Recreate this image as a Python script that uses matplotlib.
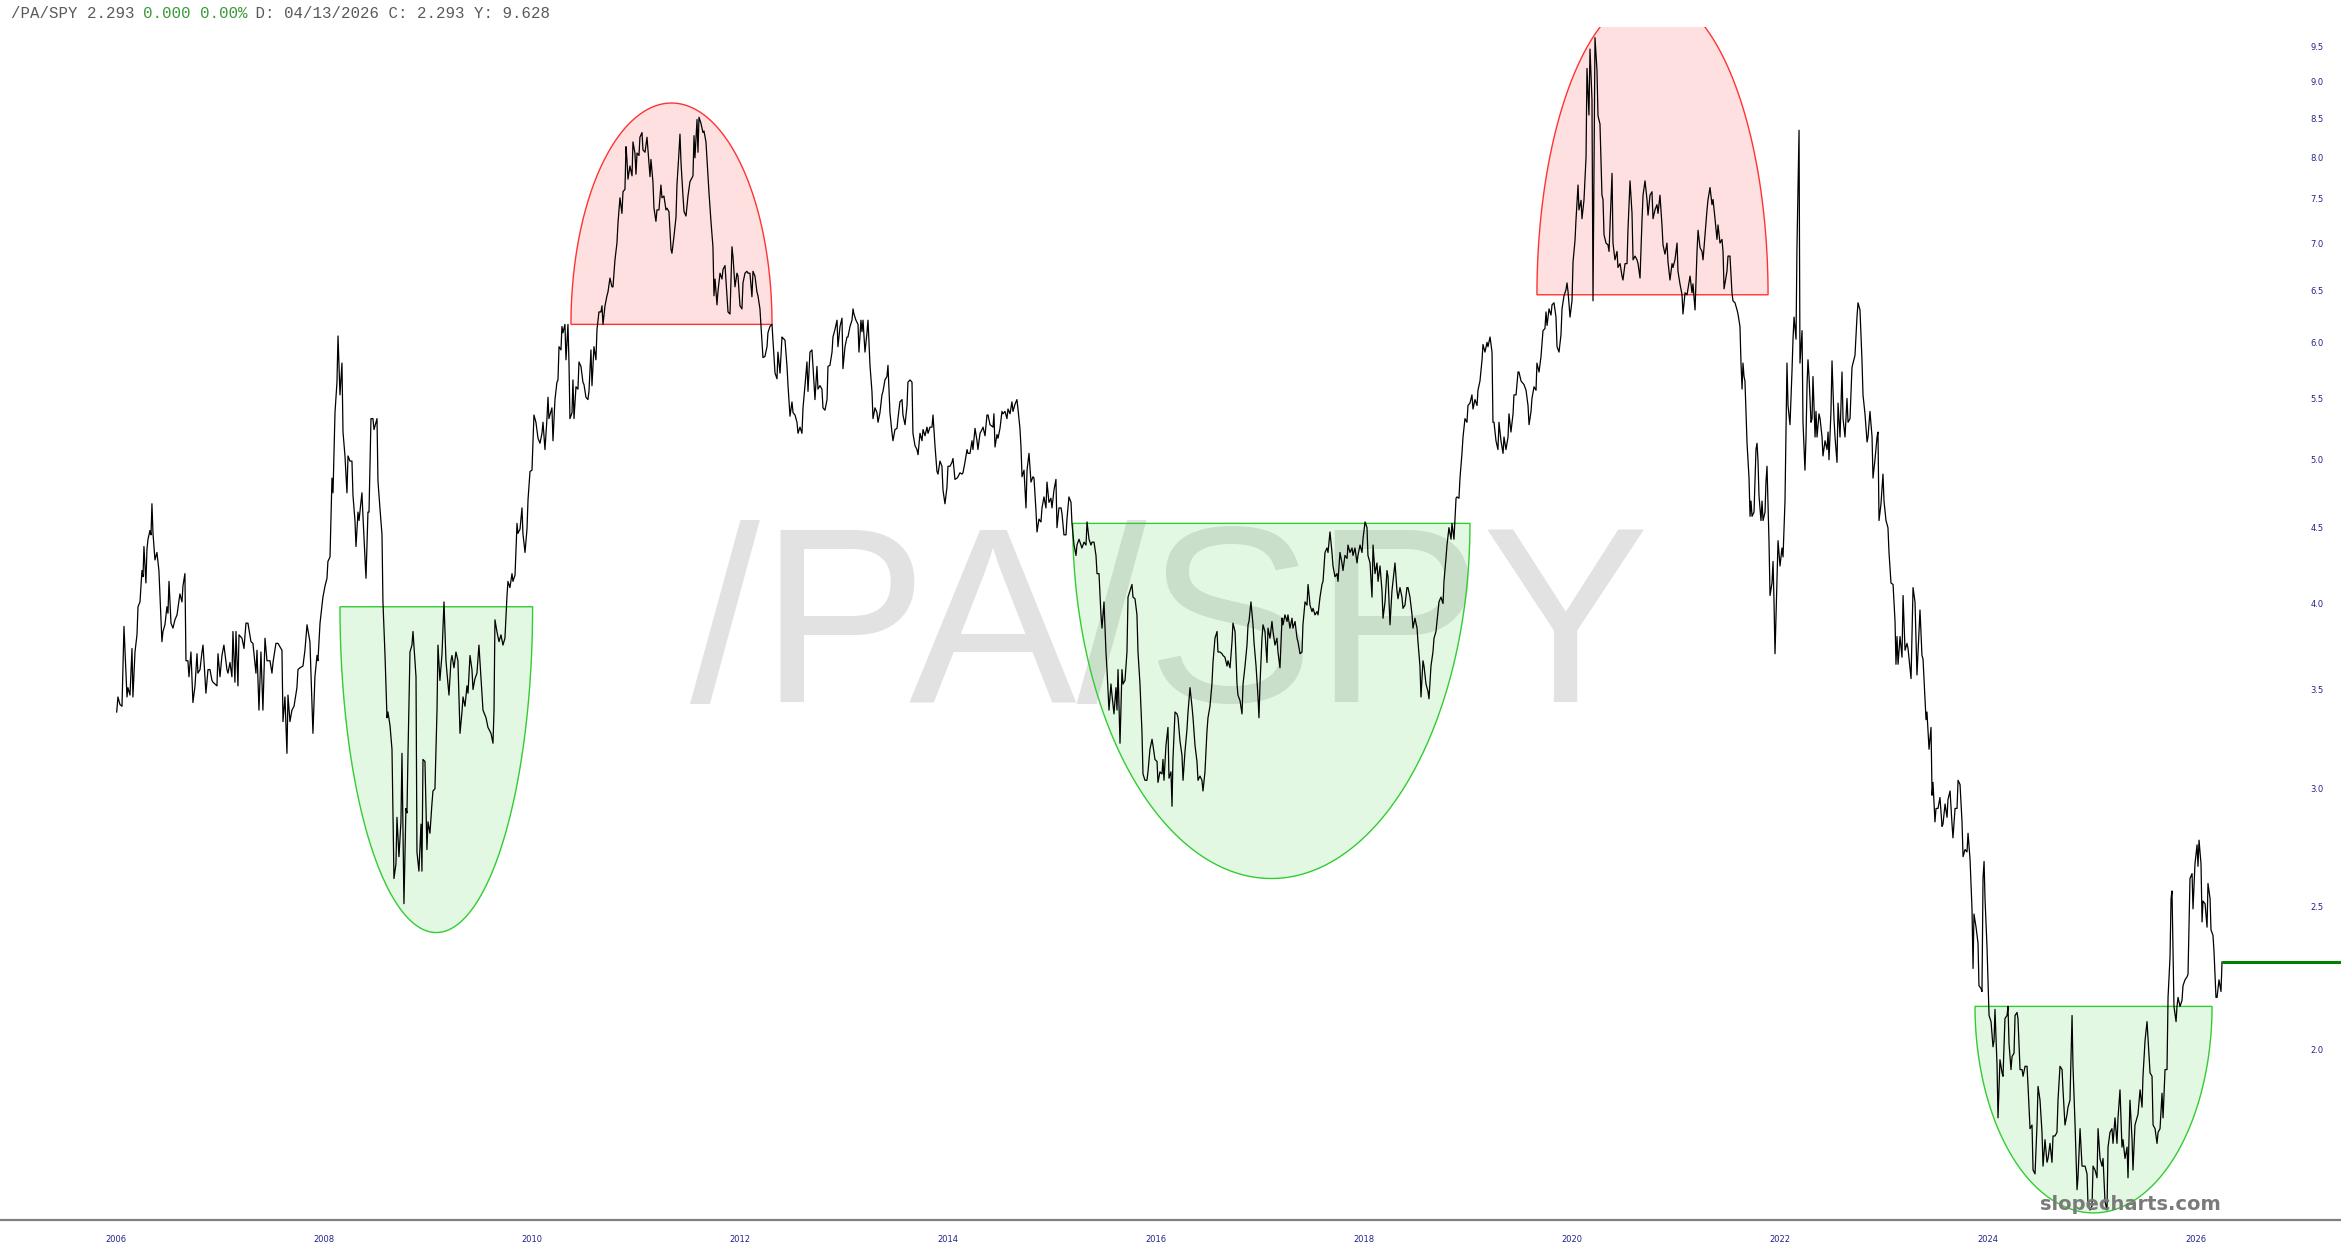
import numpy as np
import matplotlib.pyplot as plt
from matplotlib.patches import Polygon

# /PA/SPY ratio: (decimal year, ratio)
pa_spy_2006_2010 = [
    (2006.007, 3.38), (2006.019, 3.46), (2006.038, 3.42), (2006.058, 3.41), (2006.077, 3.86), (2006.106, 3.46), (2006.115, 3.51), (2006.135, 3.47), (2006.154, 3.73), (2006.163, 3.46),
    (2006.183, 3.71), (2006.202, 3.81), (2006.212, 3.98), (2006.231, 4.01), (2006.250, 4.21), (2006.260, 4.17), (2006.269, 4.37), (2006.288, 4.13), (2006.298, 4.35), (2006.308, 4.42),
    (2006.327, 4.48), (2006.337, 4.45), (2006.346, 4.67), (2006.356, 4.46), (2006.375, 4.28), (2006.394, 4.33), (2006.413, 4.21), (2006.442, 3.77), (2006.452, 3.83), (2006.471, 3.87),
    (2006.490, 3.98), (2006.500, 3.94), (2006.510, 4.14), (2006.529, 3.88), (2006.548, 3.85), (2006.567, 3.90), (2006.587, 3.93), (2006.615, 4.06), (2006.635, 4.01), (2006.644, 4.11),
    (2006.663, 4.19), (2006.673, 3.66), (2006.692, 3.66), (2006.702, 3.57), (2006.721, 3.71), (2006.740, 3.43), (2006.760, 3.52), (2006.779, 3.70), (2006.788, 3.59), (2006.808, 3.61),
    (2006.827, 3.71), (2006.837, 3.75), (2006.865, 3.48), (2006.885, 3.61), (2006.904, 3.61), (2006.923, 3.55), (2006.933, 3.54), (2006.971, 3.52), (2006.981, 3.70), (2007.000, 3.57),
    (2007.019, 3.69), (2007.038, 3.75), (2007.067, 3.61), (2007.077, 3.59), (2007.096, 3.65), (2007.115, 3.57), (2007.125, 3.83), (2007.144, 3.54), (2007.154, 3.83), (2007.173, 3.52),
    (2007.183, 3.81), (2007.212, 3.79), (2007.231, 3.73), (2007.250, 3.88), (2007.269, 3.88), (2007.298, 3.77), (2007.317, 3.76), (2007.346, 3.59), (2007.356, 3.72), (2007.375, 3.39),
    (2007.394, 3.71), (2007.413, 3.39), (2007.433, 3.79), (2007.452, 3.66), (2007.481, 3.66), (2007.500, 3.59), (2007.510, 3.65), (2007.538, 3.76), (2007.558, 3.76), (2007.596, 3.72),
    (2007.606, 3.33), (2007.625, 3.46), (2007.644, 3.17), (2007.654, 3.47), (2007.673, 3.33), (2007.692, 3.39), (2007.712, 3.41), (2007.740, 3.51), (2007.750, 3.61), (2007.769, 3.62),
    (2007.798, 3.63), (2007.817, 3.72), (2007.837, 3.87), (2007.865, 3.77), (2007.894, 3.27), (2007.913, 3.57), (2007.933, 3.69), (2007.942, 3.66), (2007.962, 3.88), (2007.990, 4.04),
    (2008.010, 4.11), (2008.029, 4.16), (2008.038, 4.27), (2008.058, 4.30), (2008.077, 4.86), (2008.087, 4.75), (2008.106, 5.38), (2008.125, 5.64), (2008.135, 6.06), (2008.154, 5.53),
    (2008.173, 5.81), (2008.183, 5.22), (2008.202, 5.03), (2008.221, 4.75), (2008.231, 5.03), (2008.250, 4.99), (2008.269, 4.99), (2008.279, 4.73), (2008.298, 4.55), (2008.308, 4.37),
    (2008.327, 4.61), (2008.337, 4.55), (2008.365, 4.75), (2008.375, 4.58), (2008.404, 4.16), (2008.423, 4.61), (2008.433, 4.61), (2008.452, 5.33), (2008.471, 5.33), (2008.481, 5.24),
    (2008.510, 5.33), (2008.519, 4.84), (2008.538, 4.64), (2008.558, 4.45), (2008.567, 4.01), (2008.587, 3.69), (2008.606, 3.35), (2008.615, 3.38), (2008.635, 3.31), (2008.654, 3.19),
    (2008.673, 2.61), (2008.692, 2.67), (2008.702, 2.87), (2008.721, 2.70), (2008.740, 2.85), (2008.750, 3.17), (2008.769, 2.51), (2008.788, 2.91), (2008.798, 2.89), (2008.808, 3.17),
    (2008.827, 3.71), (2008.846, 3.75), (2008.856, 3.83), (2008.885, 3.57), (2008.894, 2.72), (2008.913, 2.64), (2008.933, 2.84), (2008.942, 2.64), (2008.952, 3.14), (2008.971, 3.13),
    (2008.990, 2.73), (2009.000, 2.85), (2009.019, 2.80), (2009.038, 2.93), (2009.048, 2.99), (2009.067, 3.00), (2009.087, 3.39), (2009.096, 3.75), (2009.115, 3.55), (2009.135, 3.70),
    (2009.154, 4.01), (2009.173, 3.66), (2009.183, 3.59), (2009.202, 3.47), (2009.221, 3.66), (2009.231, 3.69), (2009.250, 3.62), (2009.269, 3.71), (2009.288, 3.66), (2009.308, 3.27),
    (2009.327, 3.38), (2009.337, 3.46), (2009.356, 3.41), (2009.375, 3.52), (2009.385, 3.48), (2009.404, 3.69), (2009.423, 3.61), (2009.433, 3.50), (2009.452, 3.56), (2009.471, 3.59),
    (2009.490, 3.75), (2009.519, 3.48), (2009.529, 3.39), (2009.558, 3.35), (2009.577, 3.30), (2009.606, 3.27), (2009.625, 3.22), (2009.635, 3.39), (2009.644, 3.90), (2009.663, 3.83),
    (2009.683, 3.77), (2009.702, 3.81), (2009.721, 3.75), (2009.740, 3.79), (2009.760, 4.05), (2009.769, 4.14), (2009.788, 4.10), (2009.808, 4.19), (2009.817, 4.14), (2009.837, 4.18),
    (2009.856, 4.53), (2009.865, 4.46), (2009.885, 4.49), (2009.904, 4.64), (2009.913, 4.46), (2009.933, 4.33), (2009.952, 4.49), (2009.962, 4.70), (2009.981, 4.91), (2010.000, 4.92),
    (2010.019, 5.36), (2010.038, 5.30), (2010.058, 5.17),
]

pa_spy_2010_2014 = [
    (2010.077, 5.13), (2010.096, 5.21), (2010.106, 5.30), (2010.125, 5.08), (2010.144, 5.33), (2010.154, 5.51), (2010.163, 5.33), (2010.192, 5.42), (2010.202, 5.15), (2010.221, 5.49),
    (2010.240, 5.64), (2010.250, 5.66), (2010.260, 5.96), (2010.279, 5.93), (2010.288, 6.15), (2010.298, 6.09), (2010.317, 6.17), (2010.327, 5.84), (2010.346, 6.17), (2010.356, 5.81),
    (2010.365, 5.33), (2010.385, 5.38), (2010.394, 5.66), (2010.404, 5.33), (2010.423, 5.60), (2010.442, 5.58), (2010.452, 5.82), (2010.471, 5.78), (2010.490, 5.64), (2010.500, 5.62),
    (2010.519, 5.51), (2010.538, 5.49), (2010.548, 5.56), (2010.567, 5.93), (2010.577, 5.61), (2010.596, 5.96), (2010.615, 5.84), (2010.625, 6.12), (2010.644, 6.29), (2010.663, 6.29),
    (2010.673, 6.35), (2010.683, 6.17), (2010.702, 6.35), (2010.721, 6.45), (2010.731, 6.49), (2010.750, 6.63), (2010.769, 6.54), (2010.779, 6.54), (2010.798, 6.82), (2010.817, 7.00),
    (2010.827, 7.22), (2010.846, 7.51), (2010.865, 7.33), (2010.875, 7.58), (2010.894, 7.61), (2010.904, 8.13), (2010.913, 7.97), (2010.923, 7.73), (2010.942, 7.89), (2010.962, 7.77),
    (2010.971, 8.19), (2010.990, 8.05), (2011.000, 7.79), (2011.010, 8.05), (2011.029, 8.02), (2011.038, 8.25), (2011.058, 8.31), (2011.067, 8.09), (2011.087, 8.06), (2011.106, 8.25),
    (2011.115, 8.09), (2011.135, 7.76), (2011.144, 7.97), (2011.163, 7.70), (2011.173, 7.39), (2011.192, 7.24), (2011.202, 7.37), (2011.221, 7.37), (2011.240, 7.66), (2011.250, 7.51),
    (2011.269, 7.53), (2011.288, 7.37), (2011.298, 7.39), (2011.317, 7.35), (2011.337, 6.93), (2011.346, 6.89), (2011.365, 7.07), (2011.385, 7.29), (2011.394, 7.66), (2011.413, 8.05),
    (2011.423, 8.29), (2011.433, 7.93), (2011.452, 7.53), (2011.462, 7.35), (2011.481, 7.30), (2011.500, 7.53), (2011.519, 7.70), (2011.548, 7.77), (2011.558, 8.27), (2011.567, 7.99),
    (2011.587, 8.48), (2011.596, 8.06), (2011.606, 8.51), (2011.625, 8.43), (2011.644, 8.31), (2011.654, 8.33), (2011.673, 8.19), (2011.692, 7.77), (2011.702, 7.57), (2011.721, 7.24),
    (2011.740, 6.96), (2011.750, 6.45), (2011.760, 6.62), (2011.779, 6.36), (2011.788, 6.49), (2011.808, 6.68), (2011.827, 6.62), (2011.837, 6.72), (2011.856, 6.76), (2011.875, 6.45),
    (2011.885, 6.29), (2011.904, 6.27), (2011.923, 6.96), (2011.933, 6.85), (2011.952, 6.54), (2011.971, 6.68), (2011.981, 6.65), (2012.000, 6.35), (2012.019, 6.32), (2012.029, 6.58),
    (2012.048, 6.68), (2012.067, 6.70), (2012.077, 6.68), (2012.096, 6.68), (2012.115, 6.44), (2012.125, 6.70), (2012.144, 6.65), (2012.163, 6.49), (2012.173, 6.45), (2012.192, 6.32),
    (2012.212, 6.00), (2012.221, 5.86), (2012.240, 5.87), (2012.260, 5.96), (2012.269, 6.09), (2012.288, 6.15), (2012.308, 6.17), (2012.317, 6.02), (2012.337, 5.72), (2012.356, 5.67),
    (2012.365, 5.91), (2012.385, 5.72), (2012.404, 6.05), (2012.413, 6.04), (2012.433, 6.02), (2012.452, 5.78), (2012.462, 5.61), (2012.481, 5.35), (2012.500, 5.47), (2012.510, 5.38),
    (2012.529, 5.36), (2012.548, 5.30), (2012.558, 5.21), (2012.577, 5.26), (2012.596, 5.21), (2012.606, 5.42), (2012.625, 5.61), (2012.644, 5.82), (2012.654, 5.56), (2012.673, 5.91),
    (2012.692, 5.93), (2012.702, 5.78), (2012.721, 5.49), (2012.740, 5.78), (2012.750, 5.58), (2012.769, 5.61), (2012.788, 5.58), (2012.798, 5.42), (2012.817, 5.40), (2012.837, 5.49),
    (2012.846, 5.78), (2012.865, 5.79), (2012.885, 5.91), (2012.894, 6.05), (2012.913, 6.12), (2012.933, 6.21), (2012.942, 5.96), (2012.962, 6.15), (2012.981, 6.23), (2012.990, 5.76),
    (2013.010, 5.96), (2013.029, 6.05), (2013.038, 6.05), (2013.058, 6.15), (2013.077, 6.21), (2013.087, 6.32), (2013.096, 6.27), (2013.115, 6.21), (2013.135, 6.17), (2013.144, 5.91),
    (2013.163, 6.21), (2013.173, 6.10), (2013.183, 6.21), (2013.202, 5.91), (2013.221, 6.09), (2013.231, 6.21), (2013.250, 5.79), (2013.269, 5.56), (2013.279, 5.33), (2013.298, 5.42),
    (2013.317, 5.38), (2013.327, 5.30), (2013.346, 5.38), (2013.365, 5.53), (2013.375, 5.56), (2013.394, 5.66), (2013.413, 5.69), (2013.423, 5.79), (2013.442, 5.38), (2013.462, 5.21),
    (2013.471, 5.15), (2013.490, 5.24), (2013.510, 5.25), (2013.519, 5.33), (2013.538, 5.47), (2013.558, 5.49), (2013.567, 5.36), (2013.587, 5.28), (2013.606, 5.44), (2013.615, 5.64),
    (2013.635, 5.66), (2013.654, 5.64), (2013.663, 5.21), (2013.683, 5.11), (2013.702, 5.08), (2013.712, 5.04), (2013.731, 5.21), (2013.750, 5.15), (2013.760, 5.24), (2013.779, 5.19),
    (2013.798, 5.26), (2013.808, 5.21), (2013.827, 5.26), (2013.846, 5.26), (2013.856, 5.36), (2013.875, 5.11), (2013.894, 4.91), (2013.904, 4.89), (2013.923, 4.99), (2013.942, 4.95),
    (2013.952, 4.77), (2013.971, 4.67), (2013.990, 4.79), (2014.000, 4.95), (2014.019, 4.95), (2014.038, 4.98), (2014.048, 5.01), (2014.067, 4.85), (2014.087, 4.86), (2014.096, 4.87),
    (2014.115, 4.90), (2014.135, 4.89), (2014.144, 4.90), (2014.163, 4.98), (2014.183, 5.08), (2014.192, 5.05), (2014.212, 5.05), (2014.231, 5.15), (2014.240, 5.08), (2014.260, 5.25),
    (2014.279, 5.15), (2014.288, 5.08), (2014.308, 5.21), (2014.327, 5.24), (2014.337, 5.26), (2014.356, 5.19), (2014.375, 5.36), (2014.385, 5.36),
]

pa_spy_2014_2018 = [
    (2014.404, 5.28), (2014.433, 5.26), (2014.442, 5.37), (2014.452, 5.10), (2014.471, 5.20), (2014.481, 5.17), (2014.500, 5.25), (2014.519, 5.39), (2014.529, 5.37), (2014.548, 5.39),
    (2014.567, 5.33), (2014.577, 5.41), (2014.596, 5.37), (2014.615, 5.47), (2014.625, 5.39), (2014.644, 5.45), (2014.663, 5.49), (2014.673, 5.41), (2014.692, 5.25), (2014.702, 5.10),
    (2014.712, 4.87), (2014.731, 4.92), (2014.750, 4.64), (2014.760, 4.92), (2014.779, 5.05), (2014.798, 4.83), (2014.817, 4.87), (2014.827, 4.86), (2014.846, 4.62), (2014.856, 4.47),
    (2014.875, 4.56), (2014.894, 4.54), (2014.904, 4.64), (2014.923, 4.72), (2014.942, 4.64), (2014.952, 4.83), (2014.971, 4.68), (2014.990, 4.71), (2015.000, 4.64), (2015.019, 4.77),
    (2015.038, 4.85), (2015.048, 4.50), (2015.067, 4.64), (2015.087, 4.64), (2015.096, 4.60), (2015.115, 4.45), (2015.135, 4.45), (2015.144, 4.56), (2015.163, 4.72), (2015.183, 4.68),
    (2015.192, 4.53), (2015.212, 4.38), (2015.231, 4.31), (2015.240, 4.38), (2015.260, 4.42), (2015.279, 4.38), (2015.288, 4.36), (2015.308, 4.40), (2015.327, 4.38), (2015.337, 4.54),
    (2015.356, 4.42), (2015.375, 4.38), (2015.385, 4.40), (2015.404, 4.40), (2015.423, 4.31), (2015.433, 4.19), (2015.452, 4.19), (2015.471, 3.93), (2015.481, 3.85), (2015.500, 4.01),
    (2015.519, 3.71), (2015.529, 3.61), (2015.548, 3.39), (2015.567, 3.53), (2015.577, 3.47), (2015.596, 3.37), (2015.615, 3.51), (2015.625, 3.39), (2015.635, 3.61), (2015.654, 3.22),
    (2015.673, 3.61), (2015.683, 3.53), (2015.702, 3.55), (2015.721, 3.71), (2015.731, 4.04), (2015.750, 4.08), (2015.769, 4.12), (2015.779, 4.04), (2015.798, 4.03), (2015.817, 3.93),
    (2015.827, 3.71), (2015.846, 3.53), (2015.865, 3.28), (2015.875, 3.07), (2015.894, 3.04), (2015.913, 3.04), (2015.923, 3.08), (2015.942, 3.19), (2015.962, 3.24), (2015.971, 3.21),
    (2015.990, 3.14), (2016.010, 3.13), (2016.019, 3.03), (2016.038, 3.08), (2016.058, 3.07), (2016.067, 3.14), (2016.077, 3.04), (2016.096, 3.21), (2016.115, 3.30), (2016.125, 3.05),
    (2016.144, 3.08), (2016.154, 2.92), (2016.163, 3.14), (2016.183, 3.38), (2016.202, 3.37), (2016.212, 3.35), (2016.231, 3.23), (2016.250, 3.16), (2016.260, 3.04), (2016.279, 3.18),
    (2016.298, 3.29), (2016.308, 3.38), (2016.327, 3.51), (2016.346, 3.41), (2016.356, 3.35), (2016.375, 3.21), (2016.394, 3.13), (2016.404, 3.04), (2016.423, 3.06), (2016.442, 3.04),
    (2016.452, 2.99), (2016.471, 3.08), (2016.490, 3.28), (2016.500, 3.35), (2016.519, 3.41), (2016.538, 3.53), (2016.548, 3.65), (2016.567, 3.79), (2016.587, 3.83), (2016.596, 3.71),
    (2016.615, 3.71), (2016.635, 3.70), (2016.644, 3.69), (2016.663, 3.68), (2016.683, 3.63), (2016.692, 3.66), (2016.712, 3.62), (2016.731, 3.77), (2016.740, 3.88), (2016.760, 3.83),
    (2016.779, 3.53), (2016.788, 3.47), (2016.808, 3.44), (2016.827, 3.37), (2016.837, 3.53), (2016.856, 3.63), (2016.875, 3.75), (2016.885, 3.87), (2016.894, 3.89), (2016.913, 4.01),
    (2016.933, 3.87), (2016.942, 3.77), (2016.962, 3.63), (2016.981, 3.46), (2016.990, 3.35), (2017.000, 3.53), (2017.019, 3.79), (2017.029, 3.87), (2017.048, 3.83), (2017.067, 3.65),
    (2017.077, 3.85), (2017.096, 3.79), (2017.115, 3.89), (2017.125, 3.83), (2017.144, 3.75), (2017.163, 3.79), (2017.173, 3.71), (2017.192, 3.62), (2017.212, 3.91), (2017.221, 3.87),
    (2017.240, 3.93), (2017.260, 3.89), (2017.269, 3.93), (2017.288, 3.85), (2017.308, 3.91), (2017.317, 3.85), (2017.337, 3.89), (2017.356, 3.79), (2017.365, 3.77), (2017.385, 3.70),
    (2017.404, 3.71), (2017.413, 3.87), (2017.433, 4.01), (2017.452, 3.99), (2017.462, 4.12), (2017.481, 3.99), (2017.500, 3.95), (2017.510, 3.97), (2017.529, 3.93), (2017.548, 3.95),
    (2017.558, 3.93), (2017.577, 4.04), (2017.596, 4.12), (2017.606, 4.14), (2017.625, 4.33), (2017.644, 4.36), (2017.654, 4.33), (2017.673, 4.47), (2017.692, 4.33), (2017.702, 4.24),
    (2017.721, 4.17), (2017.740, 4.19), (2017.750, 4.14), (2017.769, 4.33), (2017.788, 4.26), (2017.798, 4.21), (2017.817, 4.31), (2017.837, 4.29), (2017.846, 4.38), (2017.865, 4.33),
    (2017.885, 4.36), (2017.894, 4.31), (2017.913, 4.36), (2017.933, 4.26), (2017.942, 4.31), (2017.962, 4.38), (2017.981, 4.33), (2017.990, 4.42), (2018.010, 4.54), (2018.029, 4.50),
    (2018.038, 4.31), (2018.058, 4.26), (2018.077, 4.04), (2018.087, 4.38), (2018.106, 4.19), (2018.125, 4.26), (2018.135, 4.14), (2018.154, 4.24), (2018.173, 4.08), (2018.183, 3.91),
    (2018.202, 4.01), (2018.221, 4.21), (2018.231, 4.17), (2018.250, 3.87), (2018.269, 4.08), (2018.279, 4.14), (2018.298, 4.26), (2018.317, 4.08), (2018.327, 4.03), (2018.346, 4.10),
    (2018.365, 4.04), (2018.375, 3.97), (2018.394, 3.99), (2018.413, 4.10), (2018.423, 4.10), (2018.442, 4.04), (2018.462, 3.93), (2018.471, 3.85), (2018.490, 3.91), (2018.510, 3.85),
    (2018.519, 3.77), (2018.538, 3.63), (2018.548, 3.46), (2018.567, 3.66), (2018.577, 3.63), (2018.596, 3.53), (2018.615, 3.49), (2018.625, 3.45), (2018.644, 3.63), (2018.663, 3.71),
    (2018.673, 3.79), (2018.692, 3.83), (2018.712, 3.95), (2018.721, 4.01), (2018.740, 4.04), (2018.760, 4.00), (2018.769, 4.14), (2018.788, 4.29), (2018.798, 4.38), (2018.817, 4.50),
    (2018.837, 4.42), (2018.846, 4.53), (2018.865, 4.42), (2018.885, 4.71), (2018.894, 4.72), (2018.913, 4.71),
]

pa_spy_2019_2023 = [
    (2018.923, 4.86), (2018.942, 5.05), (2018.952, 5.18), (2018.971, 5.33), (2018.990, 5.30), (2019.000, 5.44), (2019.019, 5.46), (2019.038, 5.53), (2019.048, 5.41), (2019.067, 5.49),
    (2019.087, 5.44), (2019.096, 5.57), (2019.115, 5.65), (2019.135, 5.84), (2019.144, 5.98), (2019.163, 5.91), (2019.183, 6.00), (2019.192, 5.96), (2019.212, 6.05), (2019.231, 5.91),
    (2019.240, 5.30), (2019.250, 5.30), (2019.269, 5.15), (2019.288, 5.08), (2019.298, 5.30), (2019.317, 5.15), (2019.337, 5.05), (2019.346, 5.18), (2019.365, 5.08), (2019.385, 5.18),
    (2019.394, 5.37), (2019.413, 5.22), (2019.433, 5.37), (2019.442, 5.53), (2019.462, 5.53), (2019.481, 5.73), (2019.490, 5.73), (2019.510, 5.65), (2019.529, 5.63), (2019.538, 5.62),
    (2019.558, 5.57), (2019.577, 5.44), (2019.587, 5.28), (2019.606, 5.39), (2019.615, 5.50), (2019.635, 5.60), (2019.654, 5.57), (2019.663, 5.81), (2019.683, 5.73), (2019.702, 5.87),
    (2019.712, 6.00), (2019.721, 6.11), (2019.740, 6.13), (2019.750, 6.29), (2019.760, 6.16), (2019.779, 6.32), (2019.798, 6.26), (2019.808, 6.36), (2019.827, 6.38), (2019.846, 6.24),
    (2019.856, 5.96), (2019.875, 5.91), (2019.894, 6.07), (2019.904, 6.32), (2019.923, 6.45), (2019.942, 6.51), (2019.952, 6.58), (2019.962, 6.49), (2019.981, 6.24), (2020.000, 6.40),
    (2020.010, 6.80), (2020.029, 7.03), (2020.038, 7.25), (2020.058, 7.66), (2020.067, 7.37), (2020.087, 7.48), (2020.096, 7.27), (2020.115, 7.48), (2020.135, 8.00), (2020.144, 9.18),
    (2020.163, 8.54), (2020.173, 9.46), (2020.192, 8.75), (2020.202, 6.40), (2020.221, 9.63), (2020.240, 9.16), (2020.250, 8.53), (2020.269, 8.42), (2020.288, 7.54), (2020.298, 7.49),
    (2020.308, 7.09), (2020.327, 7.00), (2020.346, 6.98), (2020.356, 6.91), (2020.385, 7.80), (2020.394, 7.00), (2020.413, 6.82), (2020.433, 6.91), (2020.442, 6.74), (2020.462, 6.78),
    (2020.481, 6.65), (2020.490, 6.61), (2020.510, 6.78), (2020.529, 6.78), (2020.538, 7.14), (2020.558, 7.71), (2020.577, 7.33), (2020.587, 6.82), (2020.606, 6.86), (2020.625, 6.82),
    (2020.635, 6.78), (2020.654, 6.63), (2020.673, 7.25), (2020.683, 7.54), (2020.702, 7.71), (2020.721, 7.49), (2020.731, 7.31), (2020.750, 7.54), (2020.769, 7.58), (2020.779, 7.27),
    (2020.798, 7.37), (2020.817, 7.43), (2020.827, 7.33), (2020.846, 7.54), (2020.865, 7.20), (2020.875, 6.98), (2020.894, 6.88), (2020.913, 7.00), (2020.923, 6.80), (2020.942, 6.61),
    (2020.962, 6.78), (2020.971, 6.74), (2020.990, 6.82), (2021.010, 7.00), (2021.019, 6.70), (2021.038, 6.57), (2021.058, 6.46), (2021.067, 6.27), (2021.087, 6.48), (2021.106, 6.46),
    (2021.115, 6.52), (2021.135, 6.65), (2021.154, 6.48), (2021.163, 6.57), (2021.183, 6.31), (2021.202, 6.91), (2021.212, 7.14), (2021.231, 6.95), (2021.250, 6.91), (2021.260, 6.82),
    (2021.279, 7.09), (2021.298, 7.37), (2021.308, 7.49), (2021.327, 7.63), (2021.346, 7.43), (2021.356, 7.49), (2021.375, 7.27), (2021.394, 7.04), (2021.404, 7.20), (2021.423, 7.00),
    (2021.442, 7.04), (2021.452, 6.91), (2021.462, 6.52), (2021.490, 6.70), (2021.500, 6.86), (2021.519, 6.86), (2021.538, 6.48), (2021.548, 6.40), (2021.567, 6.38), (2021.587, 6.31),
    (2021.596, 6.27), (2021.615, 6.15), (2021.625, 5.81), (2021.635, 5.58), (2021.644, 5.81), (2021.654, 5.69), (2021.663, 5.65), (2021.673, 5.39), (2021.683, 5.13), (2021.702, 4.86),
    (2021.712, 4.58), (2021.721, 4.69), (2021.731, 4.58), (2021.750, 4.61), (2021.769, 5.08), (2021.779, 5.13), (2021.788, 5.00), (2021.798, 4.73), (2021.817, 4.55), (2021.827, 4.69),
    (2021.837, 4.55), (2021.856, 4.61), (2021.865, 4.83), (2021.875, 4.95), (2021.894, 4.41), (2021.904, 4.05), (2021.923, 4.13), (2021.933, 4.27), (2021.942, 4.02), (2021.952, 3.70),
    (2021.971, 4.16), (2021.981, 4.41), (2022.000, 4.24), (2022.019, 4.36), (2022.029, 4.30), (2022.048, 4.69), (2022.067, 5.81), (2022.077, 5.44), (2022.096, 5.28), (2022.115, 5.73),
    (2022.125, 6.03), (2022.135, 6.24), (2022.154, 6.03), (2022.163, 6.95), (2022.183, 8.34), (2022.192, 5.81), (2022.212, 6.11), (2022.221, 5.30), (2022.240, 4.92), (2022.250, 5.18),
    (2022.260, 5.62), (2022.269, 5.84), (2022.279, 5.69), (2022.298, 5.30), (2022.308, 5.33), (2022.317, 5.69), (2022.337, 5.18), (2022.346, 5.39), (2022.356, 5.18), (2022.375, 5.37),
    (2022.385, 5.33), (2022.404, 5.18), (2022.413, 5.03), (2022.433, 5.15), (2022.452, 5.08), (2022.462, 5.22), (2022.471, 5.00), (2022.490, 5.39), (2022.500, 5.83), (2022.519, 5.33),
    (2022.529, 5.18), (2022.548, 4.98), (2022.558, 5.46), (2022.577, 5.18), (2022.596, 5.73), (2022.606, 5.33), (2022.625, 5.18), (2022.644, 5.50), (2022.654, 5.30), (2022.673, 5.33),
    (2022.692, 5.77), (2022.702, 5.81), (2022.721, 5.88), (2022.740, 6.24), (2022.750, 6.38), (2022.769, 6.31), (2022.788, 5.84), (2022.798, 5.53), (2022.817, 5.37), (2022.837, 5.14),
    (2022.846, 5.18), (2022.865, 5.39), (2022.885, 5.18), (2022.894, 4.86), (2022.913, 5.00), (2022.933, 5.18), (2022.942, 5.22), (2022.952, 4.55), (2022.971, 4.67), (2022.990, 4.89),
    (2023.000, 4.69), (2023.019, 4.55), (2023.038, 4.50), (2023.048, 4.33),
]

pa_spy_2023_2026 = [
    (2023.067, 4.13), (2023.087, 4.12), (2023.106, 3.89), (2023.115, 3.64), (2023.125, 3.80), (2023.135, 3.64), (2023.154, 3.80), (2023.173, 3.68), (2023.183, 4.05), (2023.202, 3.72),
    (2023.221, 3.76), (2023.231, 3.73), (2023.260, 3.56), (2023.279, 4.10), (2023.298, 4.01), (2023.317, 3.58), (2023.346, 3.96), (2023.365, 3.69), (2023.375, 3.67), (2023.404, 3.34),
    (2023.413, 3.38), (2023.433, 3.19), (2023.452, 3.30), (2023.462, 2.97), (2023.471, 3.03), (2023.490, 2.85), (2023.500, 2.91), (2023.519, 2.91), (2023.538, 2.96), (2023.558, 2.83),
    (2023.567, 2.84), (2023.587, 2.93), (2023.606, 2.87), (2023.615, 2.95), (2023.635, 2.99), (2023.654, 2.84), (2023.663, 2.78), (2023.683, 2.91), (2023.702, 2.91), (2023.712, 3.04),
    (2023.731, 3.02), (2023.750, 2.85), (2023.760, 2.70), (2023.779, 2.73), (2023.798, 2.72), (2023.808, 2.80), (2023.827, 2.69), (2023.846, 2.49), (2023.856, 2.27), (2023.865, 2.47),
    (2023.885, 2.42), (2023.904, 2.36), (2023.913, 2.21), (2023.933, 2.20), (2023.942, 2.19), (2023.952, 2.61), (2023.962, 2.68), (2023.971, 2.53), (2023.990, 2.35), (2024.000, 2.23),
    (2024.010, 2.11), (2024.029, 2.09), (2024.048, 2.01), (2024.058, 2.03), (2024.067, 2.13), (2024.087, 1.95), (2024.096, 1.80), (2024.115, 1.97), (2024.135, 1.93), (2024.144, 1.92),
    (2024.163, 2.10), (2024.183, 2.11), (2024.192, 2.14), (2024.202, 2.02), (2024.221, 1.94), (2024.231, 1.98), (2024.250, 1.99), (2024.260, 2.11), (2024.279, 2.12), (2024.288, 2.10),
    (2024.308, 1.94), (2024.327, 1.94), (2024.337, 1.92), (2024.356, 1.95), (2024.375, 1.95), (2024.385, 1.89), (2024.404, 1.77), (2024.423, 1.78), (2024.433, 1.66), (2024.452, 1.65),
    (2024.471, 1.78), (2024.481, 1.89), (2024.500, 1.85), (2024.519, 1.76), (2024.529, 1.67), (2024.548, 1.74), (2024.567, 1.68), (2024.577, 1.69), (2024.596, 1.73), (2024.615, 1.68),
    (2024.625, 1.75), (2024.644, 1.75), (2024.663, 1.76), (2024.673, 1.85), (2024.692, 1.95), (2024.712, 1.94), (2024.721, 1.88), (2024.740, 1.78), (2024.760, 1.81), (2024.769, 1.83),
    (2024.788, 1.85), (2024.808, 2.11), (2024.817, 1.95), (2024.837, 1.78), (2024.856, 1.61), (2024.865, 1.64), (2024.885, 1.77), (2024.904, 1.67), (2024.913, 1.67), (2024.933, 1.67),
    (2024.952, 1.65), (2024.962, 1.57), (2024.981, 1.56), (2025.000, 1.57), (2025.010, 1.67), (2025.029, 1.66), (2025.048, 1.64), (2025.058, 1.77), (2025.077, 1.69), (2025.096, 1.67),
    (2025.106, 1.69), (2025.125, 1.58), (2025.144, 1.56), (2025.154, 1.72), (2025.173, 1.76), (2025.192, 1.77), (2025.202, 1.73), (2025.221, 1.80), (2025.240, 1.73), (2025.250, 1.80),
    (2025.269, 1.88), (2025.288, 1.72), (2025.298, 1.74), (2025.317, 1.69), (2025.337, 1.72), (2025.346, 1.64), (2025.365, 1.85), (2025.385, 1.74), (2025.394, 1.66), (2025.413, 1.78),
    (2025.433, 1.80), (2025.442, 1.81), (2025.462, 1.88), (2025.481, 1.83), (2025.490, 1.92), (2025.510, 2.03), (2025.529, 2.09), (2025.538, 2.04), (2025.558, 1.93), (2025.577, 1.92),
    (2025.587, 1.78), (2025.606, 1.77), (2025.625, 1.73), (2025.635, 1.76), (2025.654, 1.77), (2025.673, 1.87), (2025.683, 1.80), (2025.702, 1.94), (2025.721, 1.94), (2025.731, 2.17),
    (2025.750, 2.31), (2025.760, 2.53), (2025.769, 2.56), (2025.788, 2.14), (2025.808, 2.09), (2025.817, 2.14), (2025.827, 2.17), (2025.846, 2.14), (2025.865, 2.16), (2025.875, 2.21),
    (2025.894, 2.23), (2025.913, 2.24), (2025.923, 2.25), (2025.942, 2.61), (2025.962, 2.63), (2025.971, 2.49), (2025.990, 2.67), (2026.010, 2.75), (2026.019, 2.66), (2026.029, 2.77),
    (2026.048, 2.67), (2026.058, 2.44), (2026.067, 2.52), (2026.087, 2.51), (2026.106, 2.42), (2026.115, 2.59), (2026.135, 2.53), (2026.144, 2.41), (2026.163, 2.39), (2026.173, 2.33),
    (2026.192, 2.17), (2026.202, 2.17), (2026.221, 2.23), (2026.240, 2.19), (2026.250, 2.293),
]

# hand-drawn saucers: (start year, end year, rim level, deepest/highest level)
bowls = [(2008.154, 2010.006, 3.98, 2.40),
         (2015.199, 2019.019, 4.53, 2.61),
         (2023.875, 2026.154, 2.14, 1.553)]
domes = [(2010.375, 2012.308, 6.17, 8.70),
         (2019.663, 2021.885, 6.46, 10.3)]

year_ticks = list(range(2006, 2027, 2))
ratio_ticks = [2.0, 2.5, 3.0, 3.5, 4.0, 4.5, 5.0, 5.5, 6.0, 6.5, 7.0, 7.5, 8.0, 8.5, 9.0, 9.5]
ticker = '/PA/SPY'
last_close = 2.293
header_left = '/PA/SPY 2.293 '
header_change = '0.000 0.00%'
header_right = ' D: 04/13/2026 C: 2.293 Y: 9.628'

series = np.array(pa_spy_2006_2010 + pa_spy_2010_2014 + pa_spy_2014_2018
                  + pa_spy_2019_2023 + pa_spy_2023_2026)
dates, ratio = series[:, 0], series[:, 1]


def half_ellipse(x0, x1, rim, tip, n=240):
    # ellipse in log space so it looks like an ellipse on the log axis
    t = np.linspace(0, np.pi, n)
    cx, a = (x0 + x1) / 2, (x1 - x0) / 2
    xs = cx - a * np.cos(t)
    ly = np.log(rim) + (np.log(tip) - np.log(rim)) * np.sin(t)
    return np.column_stack([xs, np.exp(ly)])


fig = plt.figure(figsize=(23.41, 12.60), dpi=100)
ax = fig.add_axes([0, 40 / 1260, 1, 1193 / 1260])
ax.set_yscale('log')
ax.set_xlim(2004.885, 2027.394)
ax.set_ylim(1.536, 9.79)

ax.text(0.4995, 0.434, ticker, transform=ax.transAxes, ha='center', va='baseline',
        fontsize=181, family='Liberation Sans', color='#e2e2e2', zorder=0.5)

for x0, x1, rim, tip in bowls:
    ax.add_patch(Polygon(half_ellipse(x0, x1, rim, tip), closed=True,
                         facecolor=(0.0, 0.78, 0.0, 0.11), edgecolor='#33cc33',
                         lw=1.0, zorder=1))
for x0, x1, rim, tip in domes:
    ax.add_patch(Polygon(half_ellipse(x0, x1, rim, tip), closed=True,
                         facecolor=(1.0, 0.0, 0.0, 0.12), edgecolor='#ff3333',
                         lw=1.0, zorder=1))

ax.plot(dates, ratio, color='black', lw=0.9, zorder=3)
ax.hlines(last_close, dates[-1], ax.get_xlim()[1], color='#008000', lw=2.2, zorder=3)

ax.yaxis.set_minor_locator(plt.NullLocator())
ax.set_yticks(ratio_ticks)
ax.set_yticklabels([f'{v:.1f}' for v in ratio_ticks])
ax.set_xticks(year_ticks)
ax.set_xticklabels([str(y) for y in year_ticks])
ax.yaxis.tick_right()
ax.tick_params(axis='y', which='both', length=0, pad=-22, labelsize=6, labelcolor='#23238e')
ax.tick_params(axis='x', which='both', length=0, pad=11, labelsize=6, labelcolor='#23238e')

for side in ('top', 'left', 'right'):
    ax.spines[side].set_visible(False)
ax.spines['bottom'].set_color('#808080')
ax.spines['bottom'].set_linewidth(1.6)

# header in a monospaced font, change figures in green
char_w = 0.6 * 11.3 * 100 / 72 / 2341
hx, hy = 11 / 2341, 1 - 13 / 1260
fig.text(hx, hy, header_left, family='Liberation Mono', fontsize=11.3, color='#5a5a5a', va='center')
fig.text(hx + len(header_left) * char_w, hy, header_change, family='Liberation Mono',
         fontsize=11.3, color='#3a9a3a', va='center')
fig.text(hx + (len(header_left) + len(header_change)) * char_w, hy, header_right,
         family='Liberation Mono', fontsize=11.3, color='#5a5a5a', va='center')

fig.text(2040 / 2341, 50 / 1260, 'slopecharts.com', fontsize=14, weight='bold',
         color='#7a7a7a', ha='left', va='baseline')

fig.savefig('out.png', dpi=100, facecolor='white')
